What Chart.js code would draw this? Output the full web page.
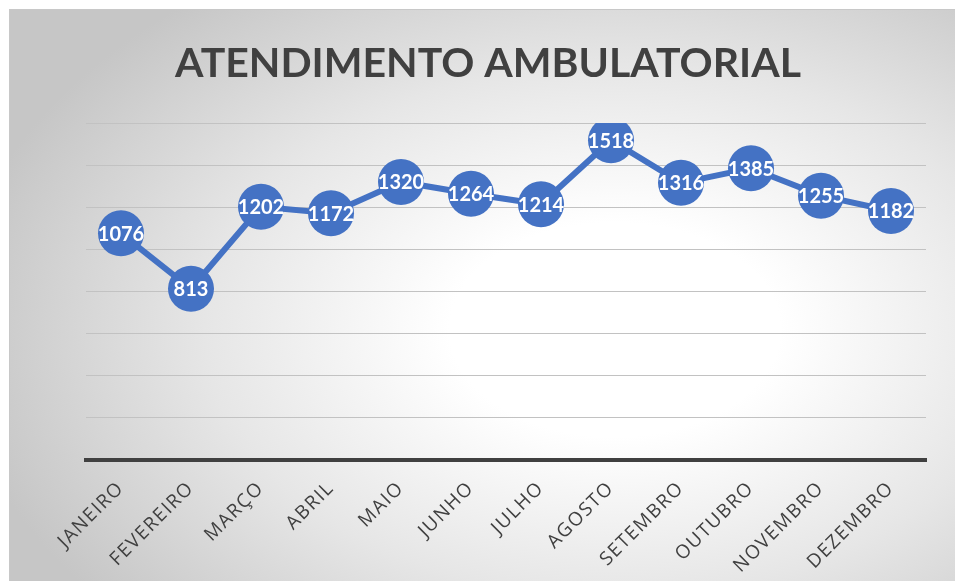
<!DOCTYPE html>
<html>

<head>
  <meta charset="utf-8">
  <title>ATENDIMENTO AMBULATORIAL</title>
  <style>
    html, body { margin: 0; padding: 0; background: #fff; }
    #caixa {
      position: absolute; left: 9px; top: 9px; width: 945px; height: 571px;
      border-top: 1px solid #c8c8c8; border-left: 1px solid #c8c8c8;
      background: radial-gradient(ellipse 70% 75% at 64% 56%, #ffffff 25%, #e6e6e6 62%, #c6c6c6 100%);
    }
  </style>
</head>

<body>
  <div id="caixa"><canvas id="grafico"></canvas></div>

  <script src="https://cdn.jsdelivr.net/npm/chart.js"></script>
  <script>
    // dados
    const titulo = 'ATENDIMENTO AMBULATORIAL';
    const meses = ['JANEIRO', 'FEVEREIRO', 'MARÇO', 'ABRIL', 'MAIO', 'JUNHO',
      'JULHO', 'AGOSTO', 'SETEMBRO', 'OUTUBRO', 'NOVEMBRO', 'DEZEMBRO'];
    const atendimentos = [1076, 813, 1202, 1172, 1320, 1264, 1214, 1518, 1316, 1385, 1255, 1182];
    const eixoMin = 0;
    const eixoMax = 1600;
    const eixoPasso = 200;

    const azul = '#4472C4';

    // espaçamento das letras nos meses, título e rótulos dos pontos
    const textos = {
      id: 'textos',
      beforeDraw(chart) {
        chart.ctx.letterSpacing = '1.5px';
      },
      afterDatasetsDraw(chart) {
        const ctx = chart.ctx;
        const meta = chart.getDatasetMeta(0);
        ctx.save();
        ctx.letterSpacing = '0px';
        ctx.fillStyle = '#fff';
        ctx.font = 'bold 20px Lato';
        ctx.textAlign = 'center';
        ctx.textBaseline = 'middle';
        meta.data.forEach((pt, i) => {
          ctx.fillText(chart.data.datasets[0].data[i], pt.x, pt.y + 1);
        });
        ctx.restore();
      },
      afterDraw(chart) {
        const ctx = chart.ctx;
        ctx.save();
        ctx.letterSpacing = '0px';
        ctx.fillStyle = '#404040';
        ctx.font = 'bold 41px Lato';
        ctx.textAlign = 'center';
        ctx.textBaseline = 'alphabetic';
        ctx.fillText(titulo, 478, 67);
        ctx.restore();
        ctx.letterSpacing = '0px';
      }
    };

    new Chart(document.getElementById('grafico'), {
      type: 'line',
      data: {
        labels: meses,
        datasets: [{
          data: atendimentos,
          borderColor: azul,
          backgroundColor: azul,
          borderWidth: 6,
          pointRadius: 23,
          pointHoverRadius: 23,
          pointBorderWidth: 0,
          tension: 0
        }]
      },
      options: {
        responsive: true,
        maintainAspectRatio: false,
        animation: false,
        layout: { padding: { top: 113, right: 29, bottom: 0, left: 0 } },
        plugins: {
          legend: { display: false },
          tooltip: { enabled: false },
          title: { display: false }
        },
        scales: {
          x: {
            offset: true,
            grid: { display: false },
            border: { display: true, color: '#404040', width: 4 },
            ticks: {
              color: '#404040',
              font: { family: 'Open Sans', size: 19 },
              minRotation: 45,
              maxRotation: 45,
              padding: 9
            },
            afterFit(scale) { scale.height = 121; }
          },
          y: {
            min: eixoMin,
            max: eixoMax,
            grid: { color: '#c2c2c2', lineWidth: 1, drawTicks: false },
            border: { display: false },
            ticks: { display: false, stepSize: eixoPasso },
            afterFit(scale) { scale.width = 76; }
          }
        }
      },
      plugins: [textos]
    });
  </script>
</body>
</html>
